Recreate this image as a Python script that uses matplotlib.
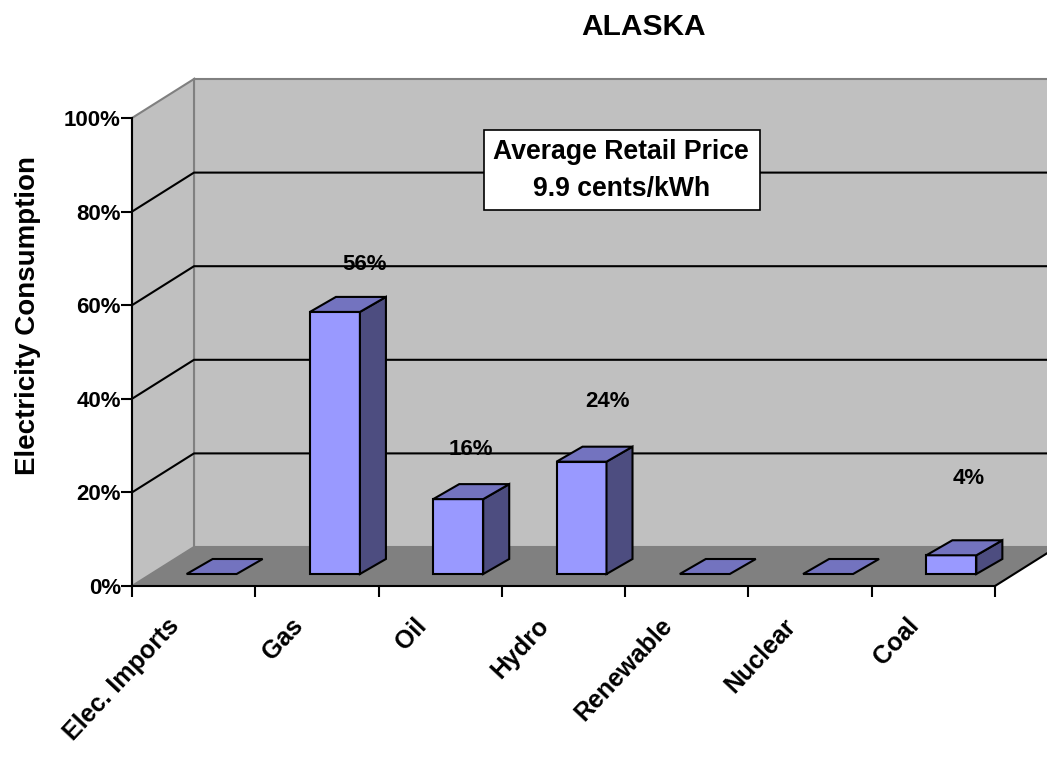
import matplotlib
matplotlib.use('Agg')
import matplotlib.pyplot as plt
from matplotlib.patches import Polygon, Rectangle

plt.rcParams['font.family'] = ['Liberation Sans', 'DejaVu Sans']
plt.rcParams['font.weight'] = 'bold'

categories = ['Elec. Imports', 'Gas', 'Oil', 'Hydro', 'Renewable', 'Nuclear', 'Coal']
values = [0, 56, 16, 24, 0, 0, 4]
y_ticks = [0, 20, 40, 60, 80, 100]
y_tick_labels = ['0%', '20%', '40%', '60%', '80%', '100%']

# pixel centres of the floating value labels, they don't sit at a fixed offset
label_spots = {1: (365, 264.5), 2: (471, 449.5), 3: (607, 401.5), 6: (969, 478.5)}

W, H = 1047, 757
LEFT, RIGHT, BOTTOM, TOP = 132, 995, 586, 118

fig = plt.figure(figsize=(W / 100, H / 100), dpi=100, facecolor='white')
ax = fig.add_axes([LEFT / W, 1 - BOTTOM / H, (RIGHT - LEFT) / W, (BOTTOM - TOP) / H])
ax.set_xlim(0, len(categories))
ax.set_ylim(0, 100)
ax.patch.set_visible(False)

sx = (RIGHT - LEFT) / len(categories)   # pixels per category
sy = (BOTTOM - TOP) / 100               # pixels per percent


def px(x, y):
    """Pixel position in the picture -> data coordinates."""
    return (x - LEFT) / sx, (BOTTOM - y) / sy


# 3D shear of the box and of the bars, in data units
box_dx, box_dy = 62 / sx, 39 / sy
bar_dx, bar_dy = 26 / sx, 15 / sy
off_dx, off_dy = 18 / sx, 12 / sy
bar_w = 50 / sx
label_shift = 27 / sx
n = len(categories)

# 1. Walls and floor
ax.add_patch(Polygon([(box_dx, box_dy), (n + box_dx, box_dy), (n + box_dx, 100 + box_dy), (box_dx, 100 + box_dy)],
                     facecolor='#c0c0c0', edgecolor='#808080', linewidth=1.5, clip_on=False, zorder=1))
ax.add_patch(Polygon([(0, 0), (box_dx, box_dy), (box_dx, 100 + box_dy), (0, 100)],
                     facecolor='#c0c0c0', edgecolor='#808080', linewidth=1.5, clip_on=False, zorder=1))
ax.add_patch(Polygon([(0, 0), (n, 0), (n + box_dx, box_dy), (box_dx, box_dy)],
                     facecolor='#808080', edgecolor='none', clip_on=False, zorder=1.5))
ax.plot([n, n + box_dx], [0, box_dy], color='black', linewidth=1.5, clip_on=False, zorder=2)

# 2. Gridlines, wrapped over side wall and back wall
for t in y_ticks[1:-1]:
    ax.plot([0, box_dx, n + box_dx], [t, t + box_dy, t + box_dy], color='black', linewidth=1.5,
            clip_on=False, zorder=2)

# 3. Bars
for i, v in enumerate(values):
    x0 = i + 0.5 + off_dx - bar_w / 2
    x1 = x0 + bar_w
    y0 = off_dy
    y1 = off_dy + v
    if v > 0:
        ax.add_patch(Polygon([(x0, y0), (x1, y0), (x1, y1), (x0, y1)], facecolor='#9999ff',
                             edgecolor='black', linewidth=1.5, clip_on=False, zorder=3, joinstyle='miter'))
        ax.add_patch(Polygon([(x1, y0), (x1 + bar_dx, y0 + bar_dy), (x1 + bar_dx, y1 + bar_dy), (x1, y1)],
                             facecolor='#4d4d80', edgecolor='black', linewidth=1.5, clip_on=False, zorder=3,
                             joinstyle='miter'))
    ax.add_patch(Polygon([(x0, y1), (x1, y1), (x1 + bar_dx, y1 + bar_dy), (x0 + bar_dx, y1 + bar_dy)],
                         facecolor='#7373bf', edgecolor='black', linewidth=1.5, clip_on=False, zorder=3,
                         joinstyle='miter'))

# 4. Value labels
for i, (lx, ly) in label_spots.items():
    x, y = px(lx, ly)
    ax.text(x, y, f'{values[i]}%', ha='center', va='center', fontsize=16, fontweight='bold', zorder=4)

# 5. Price box
bx0, by0 = px(484, 210)
bx1, by1 = px(760, 130)
ax.add_patch(Rectangle((bx0, by0), bx1 - bx0, by1 - by0, facecolor='white', edgecolor='black',
                       linewidth=1.2, clip_on=False, zorder=5))
tx, ty = px(621, 152)
ax.text(tx, ty, 'Average Retail Price', ha='center', va='center', fontsize=19.2, fontweight='bold', zorder=6)
tx, ty = px(622, 189)
ax.text(tx, ty, '9.9 cents/kWh', ha='center', va='center', fontsize=19.2, fontweight='bold', zorder=6)

# 6. Axes
for side in ['top', 'right']:
    ax.spines[side].set_visible(False)
for side in ['left', 'bottom']:
    ax.spines[side].set_linewidth(1.5)
    ax.spines[side].set_zorder(2.5)
ax.set_yticks(y_ticks)
ax.set_yticklabels(y_tick_labels, fontsize=16, fontweight='bold')
ax.set_xticks(range(n + 1))
ax.set_xticklabels([])
ax.set_xticks([i + 0.5 - label_shift for i in range(n)], minor=True)
ax.set_xticklabels(categories, minor=True, rotation=47, ha='right', rotation_mode='anchor',
                   fontsize=18, fontweight='bold')
ax.tick_params(axis='both', which='major', length=8, width=1.5, direction='out')
ax.tick_params(axis='y', pad=0)
ax.tick_params(axis='x', which='minor', length=0, pad=20)

# 7. Titles placed in picture coordinates
fig.text(644 / W, 1 - 27 / H, 'ALASKA', ha='center', va='center', fontsize=21.5, fontweight='bold')
fig.text(28 / W, 1 - 316 / H, 'Electricity Consumption', ha='center', va='center', rotation=90,
         fontsize=20, fontweight='bold')

fig.savefig('out.png', dpi=100)
